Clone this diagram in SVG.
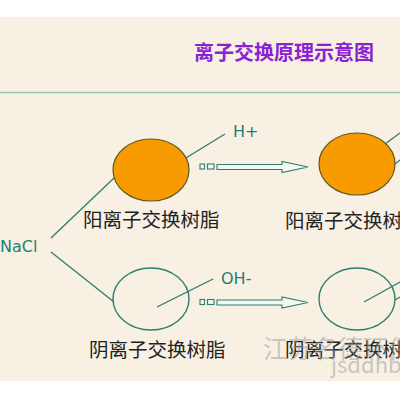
<svg xmlns="http://www.w3.org/2000/svg" width="400" height="400" viewBox="0 0 400 400">
  <defs>
    <style>
      .bg { fill: #f7f0e3; }
      .rule { stroke: #8fc6a8; stroke-width: 1.5; }
      .title { font-family: "Noto Sans CJK SC", sans-serif; font-size: 20px; font-weight: bold; fill: #8a22d4; }
      .label { font-family: "Noto Sans CJK SC", sans-serif; font-size: 19.5px; fill: #222222; }
      .ion { font-family: "DejaVu Sans", "Liberation Sans", sans-serif; font-size: 16px; fill: #1f7f6f; }
      .conn { stroke: #2e7d6e; stroke-width: 1.3; fill: none; }
      .cation { fill: #f79b00; stroke: #5f5a22; stroke-width: 1.2; }
      .anion { fill: none; stroke: #2e7d6e; stroke-width: 1.4; }
      .arrow { fill: #f4f8f2; stroke: #2e7d6e; stroke-width: 1.1; }
      .wm { font-family: "Noto Sans CJK SC", sans-serif; fill: #9a9a9a; fill-opacity: 0.5; }
    </style>
  </defs>

  <rect class="bg" x="0" y="17" width="400" height="364"/>
  <line class="rule" x1="0" y1="92.5" x2="400" y2="92.5"/>

  <text class="title" x="194" y="60">离子交换原理示意图</text>

  <g id="connectors">
    <line class="conn" x1="51" y1="238" x2="114" y2="178"/>
    <line class="conn" x1="51" y1="252" x2="114" y2="302"/>
    <line class="conn" x1="163" y1="172" x2="225" y2="134"/>
    <line class="conn" x1="157" y1="307" x2="213" y2="279"/>
    <line class="conn" x1="355" y1="166" x2="400" y2="133"/>
    <line class="conn" x1="395" y1="164" x2="400" y2="160"/>
    <line class="conn" x1="364" y1="302" x2="400" y2="282"/>
    <line class="conn" x1="395" y1="300" x2="400" y2="297"/>
  </g>

  <g id="nacl">
    <text class="ion" x="0" y="252" font-size="14.5">NaCl</text>
  </g>

  <g id="cation-resin-1">
    <ellipse class="cation" cx="151" cy="170" rx="38" ry="31"/>
    <text class="label" x="83" y="227">阳离子交换树脂</text>
  </g>
  <g id="h-ion">
    <text class="ion" x="233" y="137">H+</text>
  </g>

  <g id="anion-resin-1">
    <ellipse class="anion" cx="151" cy="299" rx="38" ry="31"/>
    <text class="label" x="89" y="357">阴离子交换树脂</text>
  </g>
  <g id="oh-ion">
    <text class="ion" x="221" y="284">OH-</text>
  </g>

  <g id="arrow-top">
    <rect class="arrow" x="200" y="164" width="4.5" height="5"/>
    <rect class="arrow" x="207.5" y="164" width="6.5" height="5"/>
    <path class="arrow" d="M217,164.5 H282 V161.5 L308,167 L282,172.5 V169.5 H217 Z"/>
  </g>
  <g id="arrow-bottom">
    <rect class="arrow" x="200" y="299.5" width="4.5" height="5"/>
    <rect class="arrow" x="207.5" y="299.5" width="6.5" height="5"/>
    <path class="arrow" d="M217,300 H282 V297 L308,302.5 L282,308 V305 H217 Z"/>
  </g>

  <g id="cation-resin-2">
    <ellipse class="cation" cx="357" cy="164" rx="38" ry="31"/>
    <text class="label" x="285" y="228">阳离子交换树脂</text>
  </g>

  <g id="anion-resin-2">
    <ellipse class="anion" cx="357" cy="299" rx="38" ry="31"/>
    <text class="label" x="285" y="357">阴离子交换树脂</text>
  </g>

  <g id="watermark">
    <text class="wm" x="263" y="358" font-size="25">江苏名德环保</text>
    <text class="wm" x="331" y="373" font-size="22" font-family="DejaVu Sans, sans-serif">jsddhb.</text>
  </g>
</svg>
